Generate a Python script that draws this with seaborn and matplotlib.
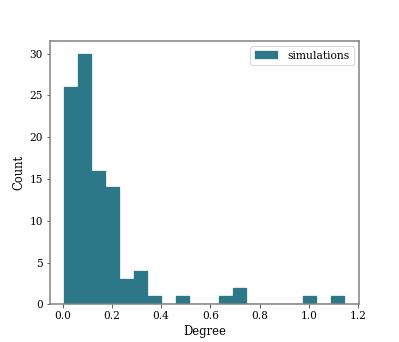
import matplotlib
matplotlib.use("Agg")
import matplotlib.pyplot as plt
import seaborn as sns
import numpy as np
import pandas as pd

# Histogram data (20 equal bins)
bin_start = 0.005
bin_end = 1.147
n_bins = 20
counts = [26, 30, 16, 14, 3, 4, 1, 0, 1, 0, 0, 1, 2, 0, 0, 0, 0, 1, 0, 1]
x_ticks = [0.0, 0.2, 0.4, 0.6, 0.8, 1.0, 1.2]
y_ticks = [0, 5, 10, 15, 20, 25, 30]

edges = np.linspace(bin_start, bin_end, n_bins + 1)
centers = (edges[:-1] + edges[1:]) / 2
df = pd.DataFrame({"Degree": centers, "w": counts})

plt.rcParams["font.family"] = ["DejaVu Serif"]
plt.rcParams["font.size"] = 10.5

DPI = 72
fig, ax = plt.subplots(figsize=(399 / DPI, 342 / DPI), dpi=DPI)
sns.histplot(data=df, x="Degree", weights="w", bins=n_bins,
             binrange=(bin_start, bin_end), ax=ax,
             color="#2c7889", alpha=1.0, edgecolor="#2c7889", linewidth=0.3,
             label="simulations")
ax.set_xticks(x_ticks)
ax.set_yticks(y_ticks)
ax.set_xlabel("Degree", fontsize=11.5)
ax.set_ylabel("Count", fontsize=11.5)
for s in ax.spines.values():
    s.set_color("#808080")
    s.set_linewidth(1.5)
ax.tick_params(colors="#333333", labelcolor="black", labelsize=10.5)
ax.legend(loc="upper right", fontsize=10.8, handlelength=2.2)
fig.savefig("out.png", dpi=DPI)
